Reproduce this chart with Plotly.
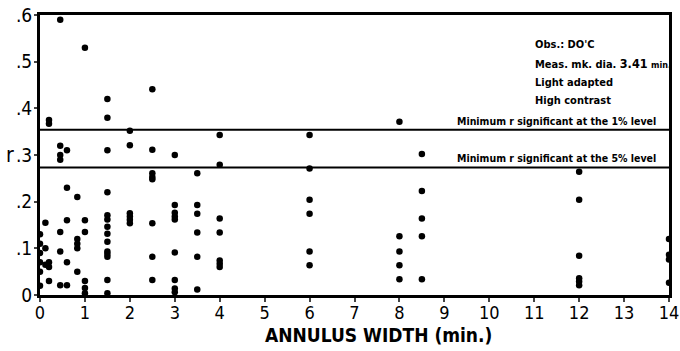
import plotly.graph_objects as go

# Annulus widths (min.) and the correlation values r observed at each width
widths = [0, 0.12, 0.2, 0.45, 0.6, 0.83, 1, 1.5, 2, 2.5, 3, 3.5, 4, 6, 8, 8.5, 12, 14]
r_groups = [
    [0.13, 0.11, 0.09, 0.07, 0.05, 0.02],
    [0.155, 0.10, 0.065],
    [0.375, 0.367, 0.07, 0.06, 0.03],
    [0.59, 0.32, 0.30, 0.29, 0.135, 0.093, 0.021],
    [0.31, 0.23, 0.16, 0.07, 0.021],
    [0.21, 0.12, 0.11, 0.10, 0.05],
    [0.53, 0.16, 0.135, 0.03, 0.015, 0.004],
    [0.42, 0.38, 0.31, 0.22, 0.171, 0.162, 0.146, 0.131, 0.114, 0.093, 0.088, 0.082, 0.032, 0.004],
    [0.352, 0.321, 0.175, 0.168, 0.161, 0.154],
    [0.441, 0.311, 0.261, 0.253, 0.248, 0.154, 0.082, 0.032],
    [0.30, 0.193, 0.176, 0.168, 0.162, 0.091, 0.032, 0.014, 0.006],
    [0.261, 0.193, 0.174, 0.134, 0.082, 0.012],
    [0.343, 0.279, 0.164, 0.134, 0.074, 0.067, 0.060],
    [0.343, 0.271, 0.204, 0.174, 0.093, 0.064],
    [0.371, 0.126, 0.093, 0.064, 0.034],
    [0.302, 0.223, 0.164, 0.126, 0.034],
    [0.264, 0.204, 0.084, 0.036, 0.029, 0.021],
    [0.12, 0.086, 0.076, 0.026],
]
r_sig_1pct = 0.354
r_sig_5pct = 0.273
x_ticks = list(range(0, 15))
y_tickvals = [0, 0.1, 0.2, 0.3, 0.4, 0.5, 0.6]
y_ticktext = ["0", ".1", ".2", ".3", ".4", ".5", ".6"]

xs, ys = [], []
for w, grp in zip(widths, r_groups):
    for r in grp:
        xs.append(w)
        ys.append(r)

FONT = "DejaVu Sans Condensed, Liberation Sans Narrow, sans-serif"

fig = go.Figure()
fig.add_trace(go.Scatter(x=xs, y=ys, mode="markers",
                         marker=dict(color="black", size=6.5), showlegend=False))

for lvl in (r_sig_1pct, r_sig_5pct):
    fig.add_shape(type="line", xref="x", yref="y", x0=0, x1=14, y0=lvl, y1=lvl,
                  line=dict(color="black", width=2))

fig.update_layout(
    width=680, height=351,
    margin=dict(l=40, r=11, t=15, b=56),
    paper_bgcolor="white", plot_bgcolor="white",
    font=dict(family=FONT, color="black"),
    xaxis=dict(range=[0, 14], tickvals=x_ticks, ticks="outside",
               ticklen=4, tickwidth=2,
               showgrid=False, zeroline=False, showline=True, linewidth=3, linecolor="black",
               mirror=True, tickfont=dict(size=18, family=FONT), automargin=False,
               ticklabeloverflow="allow", ticklabelstandoff=-5),
    yaxis=dict(range=[0, 0.6], tickvals=y_tickvals, ticktext=y_ticktext, ticks="outside",
               ticklen=3, tickwidth=2, showgrid=False, zeroline=False, showline=True,
               linewidth=3, linecolor="black", mirror=True, automargin=False,
               ticklabeloverflow="allow", ticklabelstandoff=-2,
               tickfont=dict(size=19, family=FONT)),
)

fig.add_annotation(xref="paper", yref="paper", x=0.538, y=-0.143,
                   text="<b>ANNULUS WIDTH (min.)</b>", showarrow=False,
                   xanchor="center", yanchor="middle", font=dict(size=19, family=FONT))

fig.add_annotation(xref="paper", yref="y", x=-0.058, y=0.3, text="r", showarrow=False,
                   font=dict(size=21, family=FONT), xanchor="left", yanchor="middle")

notes = [
    ("<b>Obs.: DO'C</b>", 0.536),
    ("<b>Meas. mk. dia. <span style='font-size:12.5px'>3.41</span> <span style='font-size:9px'>min.</span></b>", 0.497),
    ("<b>Light adapted</b>", 0.456),
    ("<b>High contrast</b>", 0.416),
]
for txt, yv in notes:
    fig.add_annotation(xref="x", yref="y", x=10.97, y=yv, text=txt, showarrow=False,
                       xanchor="left", yanchor="middle", font=dict(size=11, family=FONT))

fig.add_annotation(xref="x", yref="y", x=13.75, y=0.373,
                   text="<b>Minimum r significant at the 1% level</b>", showarrow=False,
                   xanchor="right", yanchor="middle", font=dict(size=10.5, family=FONT))
fig.add_annotation(xref="x", yref="y", x=13.75, y=0.294,
                   text="<b>Minimum r significant at the 5% level</b>", showarrow=False,
                   xanchor="right", yanchor="middle", font=dict(size=10.5, family=FONT))

fig.write_html("out.html")
